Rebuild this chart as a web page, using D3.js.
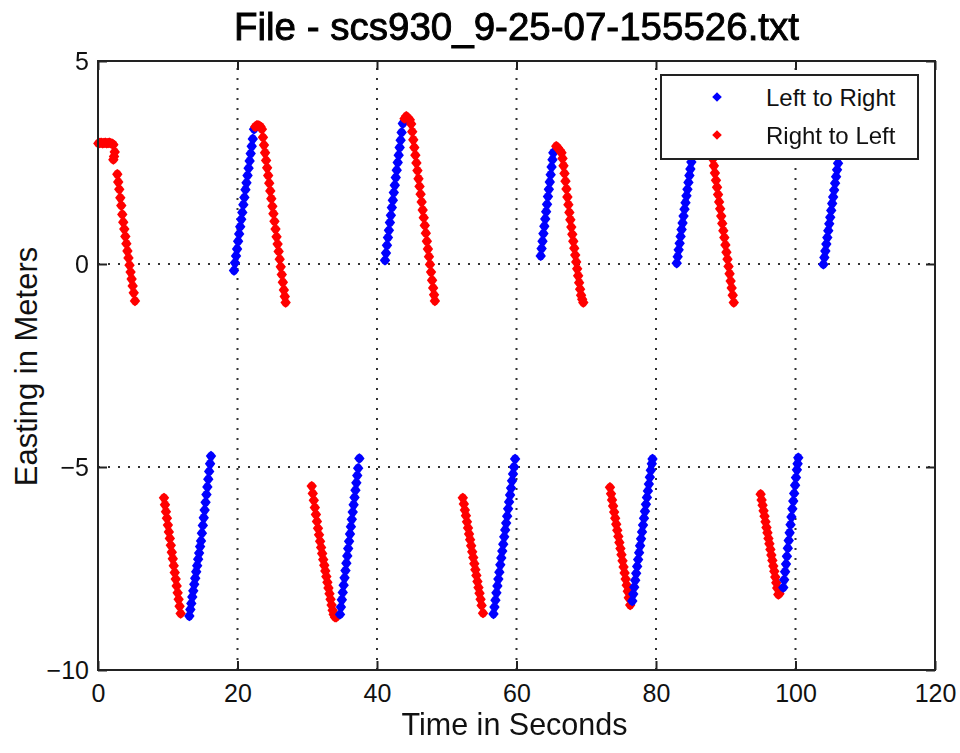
<!DOCTYPE html>
<html>
<head>
<meta charset="utf-8">
<script src="https://cdn.jsdelivr.net/npm/d3@7"></script>
<style>
  html, body { margin: 0; padding: 0; background: #fff; }
  svg { display: block; font-family: "Liberation Sans", Arial, Helvetica, sans-serif; }
</style>
</head>
<body>
<svg id="chart" width="960" height="753"></svg>
<script>
// Chart text
const titleText = "File - scs930_9-25-07-155526.txt";
const xLabel = "Time in Seconds";
const yLabel = "Easting in Meters";
const seriesNames = ["Left to Right", "Right to Left"];

// Axis ranges and ticks
const xDomain = [0, 120];
const yDomain = [-10, 5];
const xTicks = [0, 20, 40, 60, 80, 100, 120];
const yTicks = [-10, -5, 0, 5];

// Passes moving left to right: [time s, easting m]
const leftToRight = [
  [[19.50,-0.16],[19.64,0.03],[19.79,0.20],[19.94,0.37],[20.09,0.56],[20.24,0.74],[20.39,0.92],[20.54,1.10],[20.69,1.27],[20.84,1.46],[20.99,1.64],[21.14,1.83],[21.29,2.00],[21.44,2.18],[21.59,2.36],[21.74,2.54],[21.89,2.72],[22.04,2.90],[22.19,3.08],[22.37,3.32]],
  [[41.15,0.09],[41.29,0.27],[41.43,0.46],[41.57,0.65],[41.71,0.83],[41.85,1.02],[41.99,1.20],[42.13,1.39],[42.27,1.57],[42.41,1.76],[42.55,1.94],[42.69,2.13],[42.83,2.31],[42.97,2.50],[43.11,2.68],[43.25,2.87],[43.39,3.05],[43.53,3.24],[43.70,3.46]],
  [[63.47,0.20],[63.60,0.38],[63.73,0.56],[63.86,0.75],[63.99,0.93],[64.12,1.11],[64.25,1.29],[64.38,1.47],[64.51,1.66],[64.64,1.84],[64.77,2.02],[64.90,2.20],[65.03,2.39],[65.16,2.57],[65.28,2.74]],
  [[82.97,0.02],[83.11,0.18],[83.25,0.35],[83.39,0.51],[83.53,0.68],[83.67,0.85],[83.81,1.01],[83.95,1.18],[84.09,1.35],[84.23,1.51],[84.37,1.68],[84.51,1.84],[84.65,2.01],[84.79,2.18],[84.93,2.34],[85.07,2.51],[85.21,2.68],[85.35,2.84],[85.49,3.01],[85.63,3.18],[85.75,3.30]],
  [[104.00,-0.01],[104.14,0.16],[104.28,0.32],[104.42,0.49],[104.56,0.65],[104.70,0.82],[104.84,0.99],[104.98,1.15],[105.12,1.32],[105.26,1.49],[105.40,1.65],[105.54,1.82],[105.68,1.99],[105.82,2.15],[105.96,2.32],[106.10,2.48],[106.24,2.65],[106.38,2.82],[106.52,2.98],[106.66,3.15]],
  [[13.10,-8.67],[13.24,-8.51],[13.38,-8.36],[13.52,-8.20],[13.66,-8.05],[13.80,-7.89],[13.94,-7.74],[14.08,-7.58],[14.22,-7.43],[14.36,-7.27],[14.50,-7.12],[14.64,-6.96],[14.77,-6.82],[14.90,-6.63],[15.03,-6.44],[15.16,-6.25],[15.29,-6.06],[15.42,-5.87],[15.55,-5.68],[15.68,-5.49],[15.81,-5.30],[15.94,-5.11],[16.07,-4.92],[16.20,-4.73]],
  [[34.70,-8.63],[34.83,-8.45],[34.96,-8.27],[35.09,-8.09],[35.22,-7.91],[35.35,-7.73],[35.48,-7.55],[35.61,-7.37],[35.74,-7.19],[35.87,-7.01],[36.00,-6.83],[36.13,-6.65],[36.26,-6.47],[36.39,-6.29],[36.52,-6.11],[36.65,-5.93],[36.78,-5.75],[36.91,-5.57],[37.04,-5.39],[37.17,-5.21],[37.30,-5.03],[37.47,-4.79]],
  [[56.70,-8.62],[56.84,-8.45],[56.98,-8.28],[57.12,-8.10],[57.26,-7.93],[57.40,-7.76],[57.54,-7.59],[57.68,-7.41],[57.82,-7.24],[57.96,-7.07],[58.10,-6.90],[58.24,-6.72],[58.38,-6.55],[58.52,-6.38],[58.66,-6.21],[58.80,-6.03],[58.94,-5.86],[59.08,-5.69],[59.22,-5.52],[59.36,-5.34],[59.50,-5.17],[59.64,-5.00],[59.80,-4.80]],
  [[76.60,-8.30],[76.74,-8.13],[76.88,-7.96],[77.02,-7.79],[77.16,-7.62],[77.30,-7.45],[77.44,-7.28],[77.58,-7.11],[77.72,-6.94],[77.86,-6.77],[78.00,-6.60],[78.14,-6.43],[78.28,-6.26],[78.42,-6.09],[78.56,-5.92],[78.70,-5.75],[78.84,-5.59],[78.98,-5.42],[79.12,-5.25],[79.26,-5.08],[79.40,-4.92],[79.50,-4.80]],
  [[98.25,-7.97],[98.38,-7.78],[98.51,-7.58],[98.64,-7.39],[98.77,-7.20],[98.90,-7.00],[99.03,-6.81],[99.16,-6.62],[99.29,-6.42],[99.42,-6.23],[99.55,-6.03],[99.68,-5.84],[99.81,-5.65],[99.94,-5.45],[100.07,-5.26],[100.20,-5.07],[100.30,-4.92],[100.40,-4.77]]
];

// Passes moving right to left: [time s, easting m]
const rightToLeft = [
  [[0.05,2.97],[0.25,2.98],[0.45,2.99],[0.65,2.97],[0.85,2.98],[1.05,2.99],[1.25,2.97],[1.45,2.98],[1.65,2.99],[1.85,2.97],[2.05,2.96],[2.20,2.94],[2.40,2.76],[2.30,2.65],[2.20,2.57],
   [2.77,2.21],[2.90,2.02],[3.05,1.84],[3.20,1.63],[3.34,1.44],[3.48,1.22],[3.62,1.03],[3.77,0.86],[3.92,0.68],[4.07,0.50],[4.22,0.32],[4.37,0.15],[4.52,-0.03],[4.67,-0.20],[4.82,-0.37],[4.97,-0.54],[5.12,-0.71],[5.30,-0.91]],
  [[22.55,3.38],[22.80,3.42],[23.05,3.41],[23.30,3.38],[23.50,3.32],[23.65,3.12],[23.80,2.93],[23.95,2.74],[24.10,2.55],[24.25,2.37],[24.40,2.18],[24.55,1.99],[24.70,1.80],[24.85,1.61],[25.00,1.42],[25.15,1.24],[25.30,1.05],[25.45,0.86],[25.60,0.67],[25.75,0.49],[25.90,0.31],[26.05,0.12],[26.20,-0.07],[26.35,-0.26],[26.50,-0.45],[26.65,-0.64],[26.78,-0.80],[26.90,-0.95]],
  [[43.95,3.58],[44.20,3.64],[44.45,3.60],[44.70,3.55],[44.90,3.45],[45.05,3.26],[45.20,3.06],[45.35,2.87],[45.50,2.68],[45.65,2.49],[45.80,2.30],[45.95,2.10],[46.10,1.91],[46.25,1.72],[46.40,1.53],[46.55,1.33],[46.70,1.14],[46.85,0.95],[47.00,0.76],[47.15,0.56],[47.30,0.37],[47.45,0.18],[47.60,-0.01],[47.75,-0.20],[47.90,-0.40],[48.05,-0.59],[48.18,-0.76],[48.30,-0.91]],
  [[65.70,2.90],[65.95,2.86],[66.20,2.80],[66.45,2.74],[66.60,2.60],[66.74,2.42],[66.88,2.23],[67.02,2.04],[67.16,1.85],[67.30,1.65],[67.44,1.46],[67.58,1.27],[67.72,1.09],[67.86,0.91],[68.00,0.73],[68.14,0.56],[68.28,0.39],[68.42,0.22],[68.56,0.05],[68.70,-0.12],[68.84,-0.29],[68.98,-0.46],[69.12,-0.62],[69.26,-0.77],[69.42,-0.87],[69.58,-0.95]],
  [[86.00,3.36],[86.30,3.40],[86.60,3.41],[86.90,3.39],[87.20,3.36],[87.40,3.33],[87.55,3.30],[87.70,3.12],[87.85,2.95],[88.00,2.77],[88.15,2.59],[88.30,2.42],[88.45,2.24],[88.60,2.06],[88.75,1.89],[88.90,1.71],[89.05,1.53],[89.20,1.36],[89.35,1.18],[89.50,1.00],[89.65,0.82],[89.80,0.65],[89.95,0.47],[90.10,0.29],[90.25,0.12],[90.40,-0.06],[90.55,-0.24],[90.70,-0.42],[90.85,-0.59],[91.00,-0.77],[91.15,-0.95]],
  [[9.46,-5.76],[9.60,-5.93],[9.74,-6.10],[9.88,-6.26],[10.02,-6.43],[10.16,-6.60],[10.30,-6.76],[10.44,-6.93],[10.58,-7.10],[10.72,-7.26],[10.86,-7.43],[11.00,-7.60],[11.14,-7.76],[11.28,-7.93],[11.42,-8.10],[11.56,-8.26],[11.70,-8.43],[11.85,-8.61]],
  [[30.64,-5.47],[30.79,-5.65],[30.94,-5.82],[31.09,-6.00],[31.24,-6.17],[31.39,-6.34],[31.54,-6.51],[31.69,-6.67],[31.84,-6.83],[31.99,-6.98],[32.14,-7.13],[32.29,-7.28],[32.44,-7.42],[32.59,-7.56],[32.74,-7.70],[32.89,-7.84],[33.04,-7.98],[33.19,-8.12],[33.34,-8.26],[33.49,-8.40],[33.64,-8.53],[33.79,-8.63],[33.98,-8.70],[34.15,-8.70]],
  [[52.30,-5.76],[52.45,-5.91],[52.60,-6.06],[52.75,-6.20],[52.90,-6.35],[53.05,-6.50],[53.20,-6.65],[53.35,-6.79],[53.50,-6.94],[53.65,-7.09],[53.80,-7.23],[53.95,-7.38],[54.10,-7.53],[54.25,-7.67],[54.40,-7.82],[54.55,-7.97],[54.70,-8.11],[54.85,-8.26],[55.00,-8.41],[55.20,-8.60]],
  [[73.40,-5.50],[73.55,-5.66],[73.70,-5.81],[73.85,-5.96],[74.00,-6.11],[74.15,-6.26],[74.30,-6.41],[74.45,-6.56],[74.60,-6.71],[74.75,-6.86],[74.90,-7.01],[75.05,-7.16],[75.20,-7.31],[75.35,-7.46],[75.50,-7.61],[75.65,-7.76],[75.80,-7.91],[75.95,-8.06],[76.10,-8.22],[76.30,-8.40]],
  [[95.00,-5.67],[95.14,-5.81],[95.28,-5.94],[95.42,-6.08],[95.56,-6.21],[95.70,-6.35],[95.84,-6.49],[95.98,-6.62],[96.12,-6.76],[96.26,-6.89],[96.40,-7.03],[96.54,-7.17],[96.68,-7.30],[96.82,-7.44],[96.96,-7.57],[97.10,-7.71],[97.24,-7.85],[97.38,-7.98],[97.54,-8.14],[97.70,-8.12]]
];

const seriesColors = ["#0000ff", "#ff0000"];

// Layout
const plot = { left: 98, right: 935, top: 61, bottom: 670 };
const svg = d3.select("#chart");
svg.append("rect").attr("width", 960).attr("height", 753).attr("fill", "#fff");

// Soft edge for the data markers
svg.append("defs").append("filter").attr("id", "soft")
  .append("feGaussianBlur").attr("stdDeviation", 0.45);

const x = d3.scaleLinear().domain(xDomain).range([plot.left, plot.right]);
const y = d3.scaleLinear().domain(yDomain).range([plot.bottom, plot.top]);

const axisColor = "#222";

// Dotted grid
const grid = svg.append("g").attr("stroke", "#333").attr("stroke-width", 2)
  .attr("stroke-dasharray", "2 8").attr("fill", "none");
grid.selectAll("line.gx").data(xTicks.filter(t => t > xDomain[0] && t < xDomain[1]))
  .join("line").attr("class", "gx")
  .attr("x1", d => x(d)).attr("x2", d => x(d))
  .attr("y1", plot.bottom).attr("y2", plot.top);
grid.selectAll("line.gy").data(yTicks.filter(t => t > yDomain[0] && t < yDomain[1]))
  .join("line").attr("class", "gy")
  .attr("y1", d => y(d)).attr("y2", d => y(d))
  .attr("x1", plot.left).attr("x2", plot.right);

// Marker shapes: plain diamond for the legend, fuller blob for the data
const diamond = r => `M0,${-r}L${r},0L0,${r}L${-r},0Z`;
const blob = "M0,-5.2L2.6,-3.4L5.2,0L2.6,3.4L0,5.2L-2.6,3.4L-5.2,0L-2.6,-3.4Z";

// Data markers, drawn pass by pass in time order
const passes = [];
leftToRight.forEach(p => passes.push({ s: 0, pts: p }));
rightToLeft.forEach(p => passes.push({ s: 1, pts: p }));
passes.sort((a, b) => a.pts[0][0] - b.pts[0][0]);

const marks = svg.append("g").attr("filter", "url(#soft)");
passes.forEach(p => {
  marks.append("g").attr("fill", seriesColors[p.s])
    .selectAll("path").data(p.pts).join("path")
    .attr("d", blob)
    .attr("transform", d => `translate(${x(d[0])},${y(d[1])})`);
});

// Axes with inward ticks
const tickFont = 25;
const styleAxis = g => {
  g.select(".domain").remove();
  g.selectAll(".tick line").attr("stroke", axisColor).attr("stroke-width", 2);
  g.selectAll(".tick text").attr("fill", "#111").attr("font-size", tickFont)
    .attr("font-family", "Liberation Sans, Arial, sans-serif");
};
svg.append("g").attr("transform", `translate(0,${plot.bottom})`)
  .call(d3.axisBottom(x).tickValues(xTicks).tickSize(-9).tickPadding(14).tickFormat(d3.format("d")))
  .call(styleAxis);
svg.append("g").attr("transform", `translate(0,${plot.top})`)
  .call(d3.axisTop(x).tickValues(xTicks).tickSize(-9).tickFormat(""))
  .call(styleAxis);
svg.append("g").attr("transform", `translate(${plot.left},0)`)
  .call(d3.axisLeft(y).tickValues(yTicks).tickSize(-9).tickPadding(9).tickFormat(d3.format("d")))
  .call(styleAxis);
svg.append("g").attr("transform", `translate(${plot.right},0)`)
  .call(d3.axisRight(y).tickValues(yTicks).tickSize(-9).tickFormat(""))
  .call(styleAxis);

// Plot frame
svg.append("rect")
  .attr("x", plot.left).attr("y", plot.top)
  .attr("width", plot.right - plot.left).attr("height", plot.bottom - plot.top)
  .attr("fill", "none").attr("stroke", axisColor).attr("stroke-width", 2);

// Legend
const legend = svg.append("g");
legend.append("rect").attr("x", 661).attr("y", 75).attr("width", 257).attr("height", 84)
  .attr("fill", "#fff").attr("stroke", axisColor).attr("stroke-width", 2);
seriesNames.forEach((name, i) => {
  const cy = 97 + i * 38;
  legend.append("path").attr("d", diamond(4.8)).attr("fill", seriesColors[i])
    .attr("transform", `translate(717,${cy})`);
  legend.append("text").attr("x", 766).attr("y", cy + 9)
    .attr("font-size", 24).attr("fill", "#111").text(name);
});

// Title and axis labels
svg.append("text").attr("x", (plot.left + plot.right) / 2).attr("y", 40)
  .attr("text-anchor", "middle").attr("font-size", 38.5)
  .attr("fill", "#000").attr("stroke", "#000").attr("stroke-width", 0.9)
  .text(titleText);
svg.append("text").attr("x", (plot.left + plot.right) / 2 - 2).attr("y", 735)
  .attr("text-anchor", "middle").attr("font-size", 30.5).attr("fill", "#111").text(xLabel);
svg.append("text")
  .attr("transform", `translate(37,${(plot.top + plot.bottom) / 2 + 1}) rotate(-90)`)
  .attr("text-anchor", "middle").attr("font-size", 31).attr("fill", "#111").text(yLabel);
</script>
</body>
</html>
